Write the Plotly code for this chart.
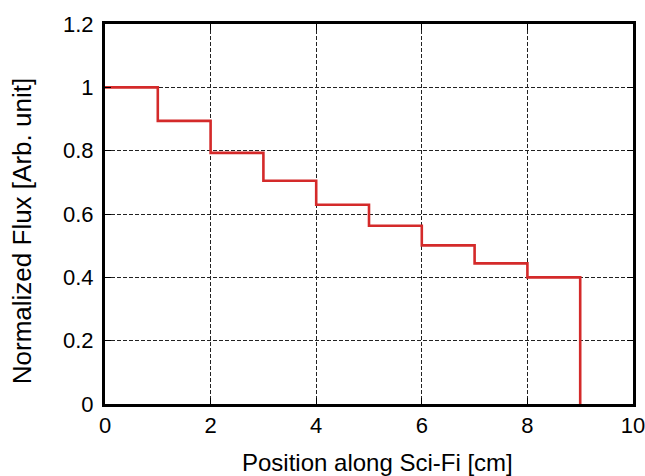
import plotly.graph_objects as go

# Data
positions = [0, 1, 2, 3, 4, 5, 6, 7, 8, 9]
flux = [1.0, 0.894, 0.793, 0.705, 0.629, 0.563, 0.501, 0.444, 0.400, 0.0]
x_ticks = [0, 2, 4, 6, 8, 10]
y_ticks = [0, 0.2, 0.4, 0.6, 0.8, 1.0, 1.2]
y_tick_labels = ["0", "0.2", "0.4", "0.6", "0.8", "1", "1.2"]
x_title = "Position along Sci-Fi [cm]"
y_title = "Normalized Flux [Arb. unit]"

fig = go.Figure()
fig.add_trace(go.Scatter(
    x=positions, y=flux, mode="lines", line_shape="hv",
    line=dict(color="#d42a2a", width=2.6), showlegend=False, cliponaxis=False,
))

fam = "Liberation Sans, Arial, sans-serif"
tick_font = dict(family=fam, size=22, color="black")
axis_common = dict(
    showline=True, linecolor="black", linewidth=3, mirror="ticks",
    ticks="inside", ticklen=6, tickwidth=1, tickcolor="black",
    showgrid=True, gridcolor="#222222", gridwidth=1, griddash="4px,2px",
    zeroline=False, tickfont=tick_font, automargin=False,
    ticklabeloverflow="allow",
)
fig.update_xaxes(range=[0, 10], tickvals=x_ticks, ticktext=[str(v) for v in x_ticks],
                 **axis_common)
fig.update_yaxes(range=[0, 1.2], tickvals=y_ticks, ticktext=y_tick_labels,
                 ticklabelstandoff=4, **axis_common)

fig.add_annotation(text=x_title, xref="paper", yref="paper", x=0.517, y=-0.153,
                   xanchor="center", yanchor="middle", showarrow=False,
                   font=dict(family=fam, size=24, color="black"))
fig.add_annotation(text=y_title, xref="paper", yref="paper", x=-0.157, y=0.455,
                   xanchor="center", yanchor="middle", showarrow=False, textangle=-90,
                   font=dict(family=fam, size=26, color="black"))

fig.update_layout(
    width=645, height=476,
    margin=dict(l=105, r=12, t=24, b=72),
    paper_bgcolor="white", plot_bgcolor="white",
)
fig.write_html(
    "out.html",
    config={"displayModeBar": False},
    post_script="document.body.style.margin='0';document.body.style.overflow='hidden';",
)
